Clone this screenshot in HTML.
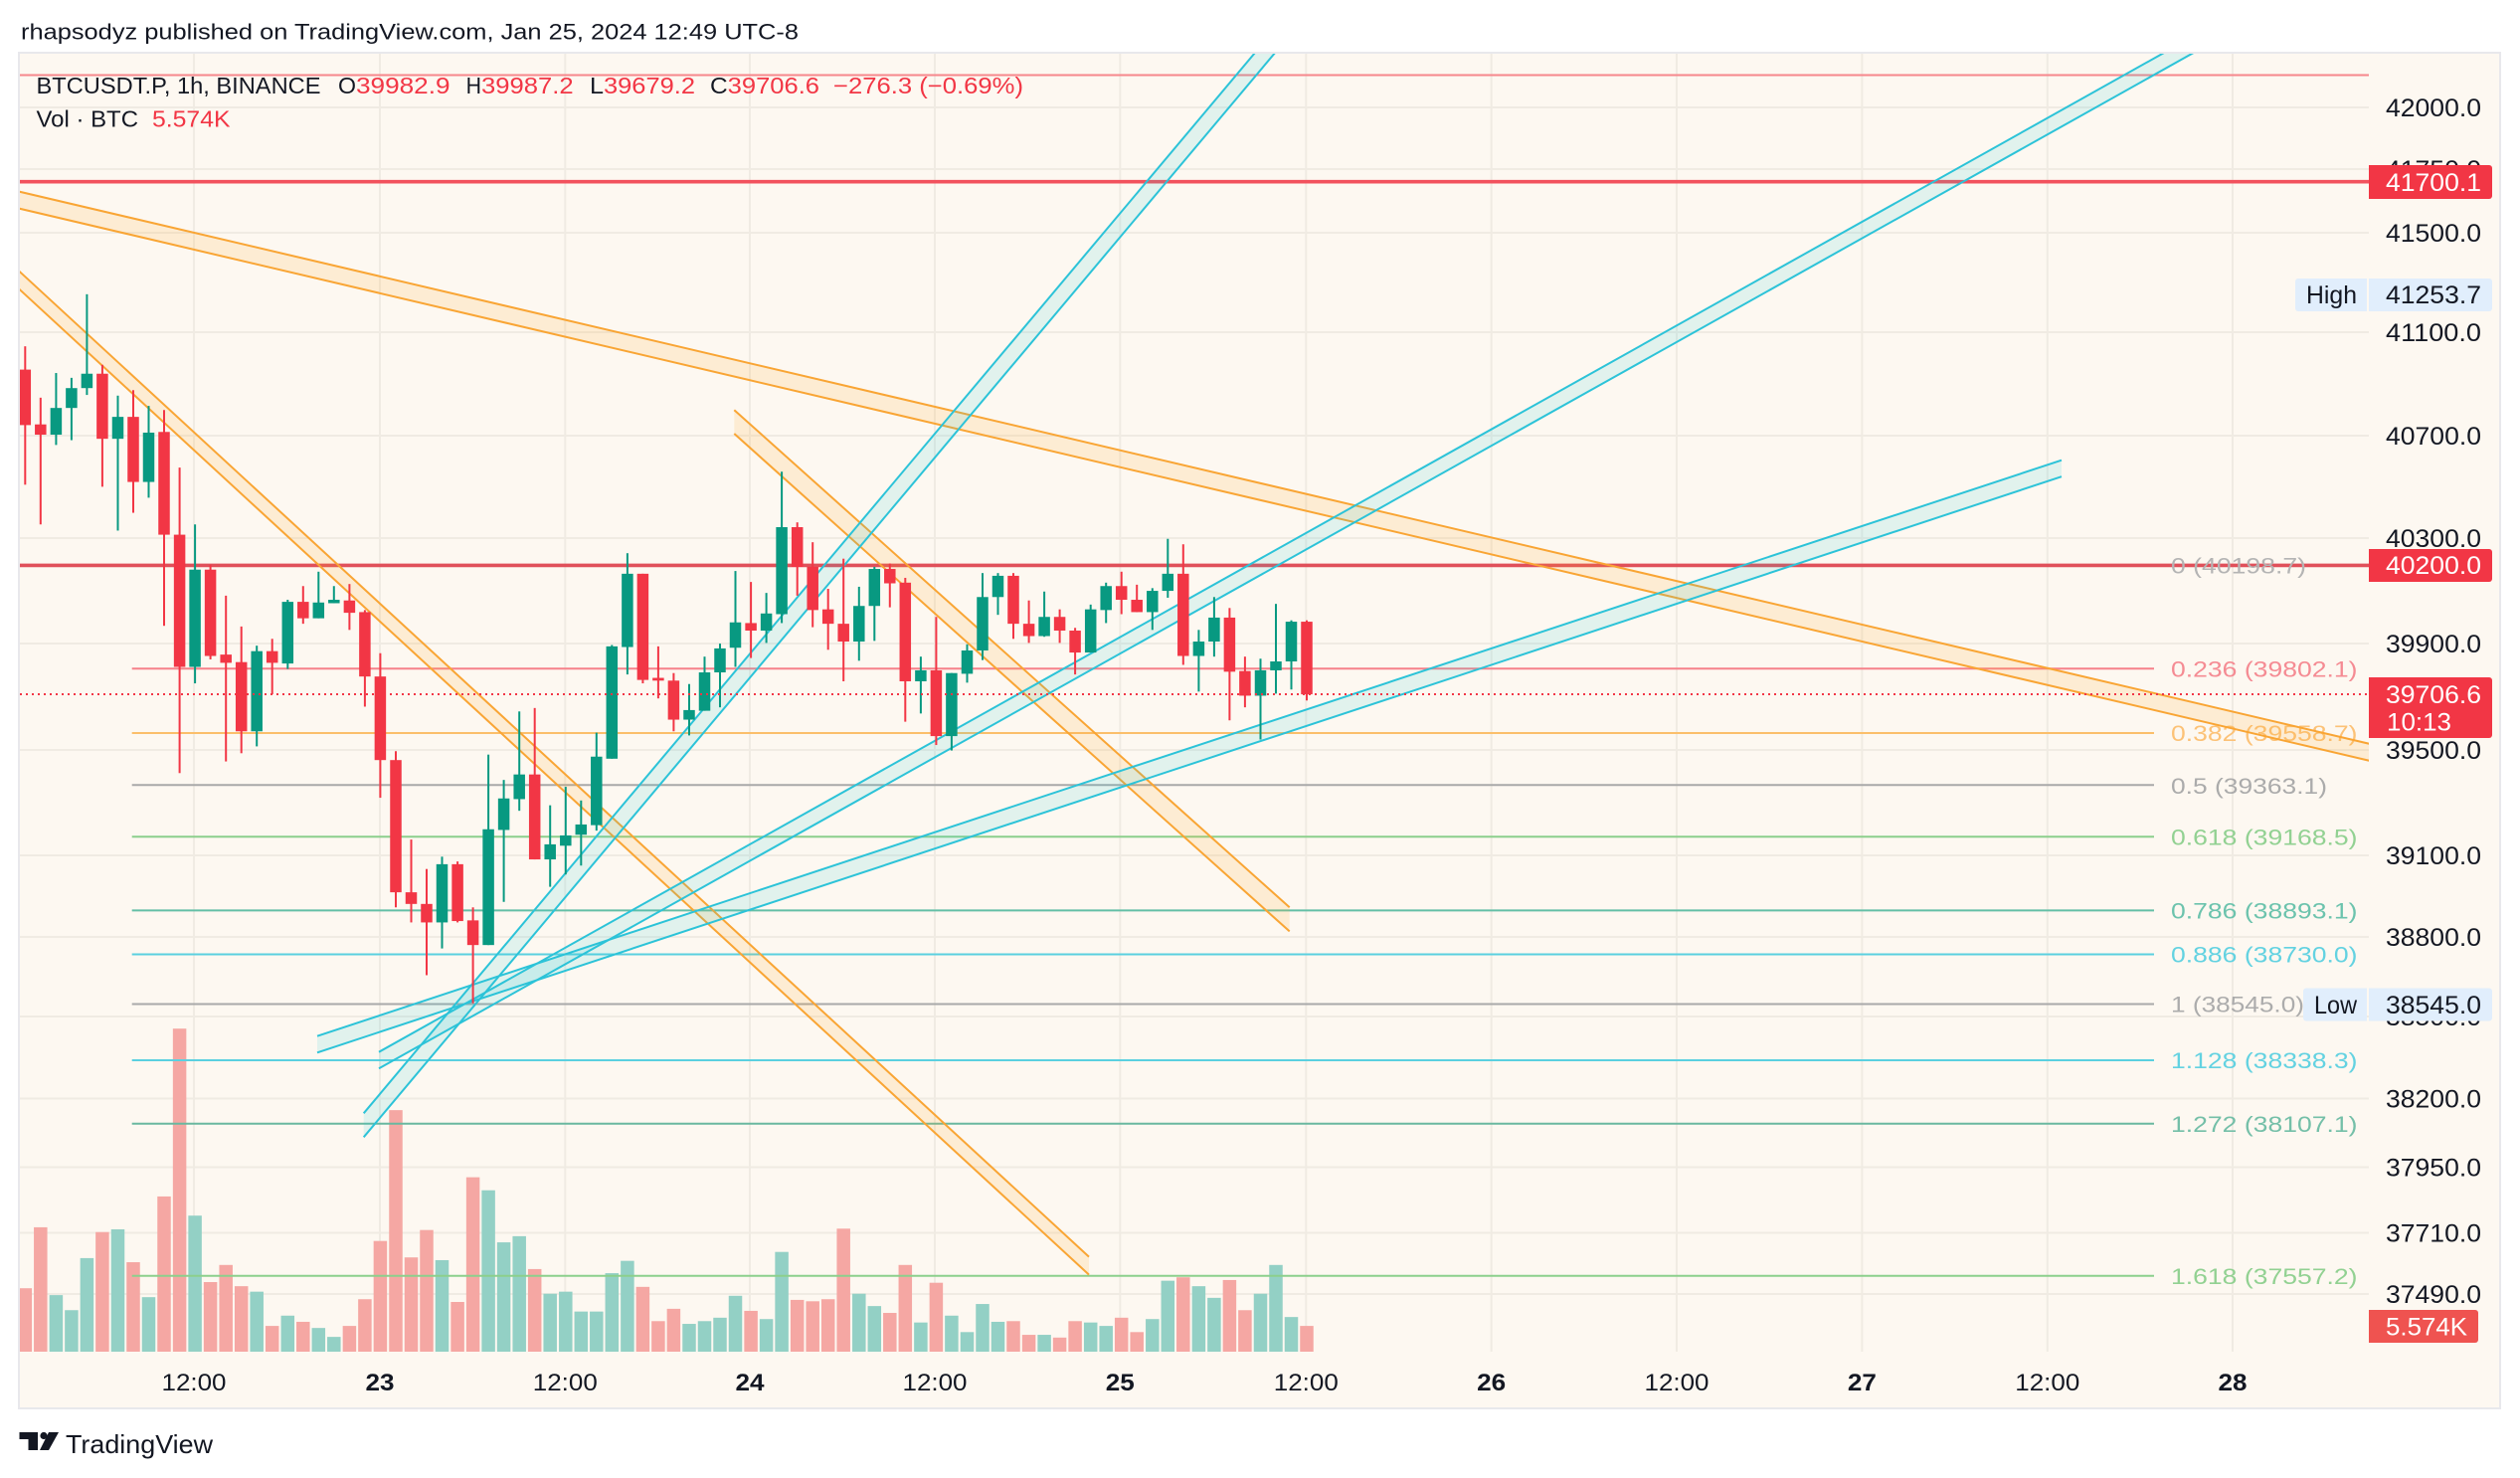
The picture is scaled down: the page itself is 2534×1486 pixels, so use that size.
<!DOCTYPE html>
<html><head><meta charset="utf-8">
<style>
html,body{margin:0;padding:0;background:#fff;}
svg{display:block;}
text{font-family:"Liberation Sans",Arial,sans-serif;}
.r{fill:#f23645}.g{fill:#089981}
.vr{fill:#f5a7a3}.vg{fill:#93d0c5}
.pl{font-size:25px;fill:#131722}
.fl{font-size:22.5px}
.tl{font-size:24px;fill:#131722}
</style></head><body>
<svg width="2534" height="1486" viewBox="0 0 2534 1486" xmlns="http://www.w3.org/2000/svg">
<defs><clipPath id="pc"><rect x="20" y="54" width="2362" height="1305"/></clipPath></defs>
<rect width="2534" height="1486" fill="#fff"/>
<rect x="19" y="53" width="2495" height="1363" fill="#fdf8f1" stroke="#e8e8ec" stroke-width="2"/>

<!-- title -->
<text x="21" y="39.5" font-size="22" fill="#131722" textLength="782" lengthAdjust="spacingAndGlyphs">rhapsodyz published on TradingView.com, Jan 25, 2024 12:49 UTC-8</text>

<!-- grid -->
<g stroke="#f0ebe3" stroke-width="2">
<line x1="20" x2="2382" y1="108" y2="108"/><line x1="20" x2="2382" y1="170" y2="170"/>
<line x1="20" x2="2382" y1="234" y2="234"/><line x1="20" x2="2382" y1="334" y2="334"/>
<line x1="20" x2="2382" y1="438" y2="438"/><line x1="20" x2="2382" y1="541" y2="541"/>
<line x1="20" x2="2382" y1="647" y2="647"/><line x1="20" x2="2382" y1="754" y2="754"/>
<line x1="20" x2="2382" y1="860" y2="860"/><line x1="20" x2="2382" y1="942" y2="942"/>
<line x1="20" x2="2382" y1="1022" y2="1022"/><line x1="20" x2="2382" y1="1104.5" y2="1104.5"/>
<line x1="20" x2="2382" y1="1173.5" y2="1173.5"/><line x1="20" x2="2382" y1="1239.5" y2="1239.5"/>
<line x1="20" x2="2382" y1="1301" y2="1301"/>
<line x1="195" x2="195" y1="54" y2="1359"/><line x1="382" x2="382" y1="54" y2="1359"/>
<line x1="568.3" x2="568.3" y1="54" y2="1359"/><line x1="754" x2="754" y1="54" y2="1359"/>
<line x1="940" x2="940" y1="54" y2="1359"/><line x1="1126.3" x2="1126.3" y1="54" y2="1359"/>
<line x1="1313.3" x2="1313.3" y1="54" y2="1359"/><line x1="1499.7" x2="1499.7" y1="54" y2="1359"/>
<line x1="1686" x2="1686" y1="54" y2="1359"/><line x1="1872.4" x2="1872.4" y1="54" y2="1359"/>
<line x1="2058.8" x2="2058.8" y1="54" y2="1359"/><line x1="2245" x2="2245" y1="54" y2="1359"/>
</g>

<!-- volume -->
<g clip-path="url(#pc)"><g transform="translate(0,280) scale(1,0.68875)">
<g transform="translate(25.3)"><rect class="vr" x="-6.75" width="13.5" y="1474" height="94"/></g>
<g transform="translate(40.8)"><rect class="vr" x="-6.75" width="13.5" y="1385" height="183"/></g>
<g transform="translate(56.4)"><rect class="vg" x="-6.75" width="13.5" y="1484" height="84"/></g>
<g transform="translate(71.9)"><rect class="vg" x="-6.75" width="13.5" y="1506" height="62"/></g>
<g transform="translate(87.4)"><rect class="vg" x="-6.75" width="13.5" y="1430" height="138"/></g>
<g transform="translate(102.9)"><rect class="vr" x="-6.75" width="13.5" y="1392" height="176"/></g>
<g transform="translate(118.5)"><rect class="vg" x="-6.75" width="13.5" y="1388" height="180"/></g>
<g transform="translate(134.0)"><rect class="vr" x="-6.75" width="13.5" y="1436" height="132"/></g>
<g transform="translate(149.5)"><rect class="vg" x="-6.75" width="13.5" y="1487" height="81"/></g>
<g transform="translate(165.0)"><rect class="vr" x="-6.75" width="13.5" y="1340" height="228"/></g>
<g transform="translate(180.6)"><rect class="vr" x="-6.75" width="13.5" y="1095" height="473"/></g>
<g transform="translate(196.1)"><rect class="vg" x="-6.75" width="13.5" y="1368" height="200"/></g>
<g transform="translate(211.6)"><rect class="vr" x="-6.75" width="13.5" y="1465" height="103"/></g>
<g transform="translate(227.2)"><rect class="vr" x="-6.75" width="13.5" y="1440" height="128"/></g>
<g transform="translate(242.7)"><rect class="vr" x="-6.75" width="13.5" y="1471" height="97"/></g>
<g transform="translate(258.2)"><rect class="vg" x="-6.75" width="13.5" y="1479" height="89"/></g>
<g transform="translate(273.7)"><rect class="vr" x="-6.75" width="13.5" y="1529" height="39"/></g>
<g transform="translate(289.3)"><rect class="vg" x="-6.75" width="13.5" y="1514" height="54"/></g>
<g transform="translate(304.8)"><rect class="vr" x="-6.75" width="13.5" y="1523" height="45"/></g>
<g transform="translate(320.3)"><rect class="vg" x="-6.75" width="13.5" y="1532" height="36"/></g>
<g transform="translate(335.8)"><rect class="vg" x="-6.75" width="13.5" y="1545" height="23"/></g>
<g transform="translate(351.4)"><rect class="vr" x="-6.75" width="13.5" y="1529" height="39"/></g>
<g transform="translate(366.9)"><rect class="vr" x="-6.75" width="13.5" y="1490" height="78"/></g>
<g transform="translate(382.4)"><rect class="vr" x="-6.75" width="13.5" y="1405" height="163"/></g>
<g transform="translate(398.0)"><rect class="vr" x="-6.75" width="13.5" y="1214" height="354"/></g>
<g transform="translate(413.5)"><rect class="vr" x="-6.75" width="13.5" y="1429" height="139"/></g>
<g transform="translate(429.0)"><rect class="vr" x="-6.75" width="13.5" y="1389" height="179"/></g>
<g transform="translate(444.5)"><rect class="vg" x="-6.75" width="13.5" y="1433" height="135"/></g>
<g transform="translate(460.1)"><rect class="vr" x="-6.75" width="13.5" y="1494" height="74"/></g>
<g transform="translate(475.6)"><rect class="vr" x="-6.75" width="13.5" y="1312" height="256"/></g>
<g transform="translate(491.1)"><rect class="vg" x="-6.75" width="13.5" y="1331" height="237"/></g>
<g transform="translate(506.6)"><rect class="vg" x="-6.75" width="13.5" y="1407" height="161"/></g>
<g transform="translate(522.2)"><rect class="vg" x="-6.75" width="13.5" y="1398" height="170"/></g>
<g transform="translate(537.7)"><rect class="vr" x="-6.75" width="13.5" y="1446" height="122"/></g>
<g transform="translate(553.2)"><rect class="vg" x="-6.75" width="13.5" y="1482" height="86"/></g>
<g transform="translate(568.8)"><rect class="vg" x="-6.75" width="13.5" y="1479" height="89"/></g>
<g transform="translate(584.3)"><rect class="vg" x="-6.75" width="13.5" y="1508" height="60"/></g>
<g transform="translate(599.8)"><rect class="vg" x="-6.75" width="13.5" y="1508" height="60"/></g>
<g transform="translate(615.3)"><rect class="vg" x="-6.75" width="13.5" y="1452" height="116"/></g>
<g transform="translate(630.9)"><rect class="vg" x="-6.75" width="13.5" y="1434" height="134"/></g>
<g transform="translate(646.4)"><rect class="vr" x="-6.75" width="13.5" y="1472" height="96"/></g>
<g transform="translate(661.9)"><rect class="vr" x="-6.75" width="13.5" y="1522" height="46"/></g>
<g transform="translate(677.4)"><rect class="vr" x="-6.75" width="13.5" y="1504" height="64"/></g>
<g transform="translate(693.0)"><rect class="vg" x="-6.75" width="13.5" y="1526" height="42"/></g>
<g transform="translate(708.5)"><rect class="vg" x="-6.75" width="13.5" y="1522" height="46"/></g>
<g transform="translate(724.0)"><rect class="vg" x="-6.75" width="13.5" y="1517" height="51"/></g>
<g transform="translate(739.5)"><rect class="vg" x="-6.75" width="13.5" y="1485" height="83"/></g>
<g transform="translate(755.1)"><rect class="vr" x="-6.75" width="13.5" y="1507" height="61"/></g>
<g transform="translate(770.6)"><rect class="vg" x="-6.75" width="13.5" y="1519" height="49"/></g>
<g transform="translate(786.1)"><rect class="vg" x="-6.75" width="13.5" y="1421" height="147"/></g>
<g transform="translate(801.7)"><rect class="vr" x="-6.75" width="13.5" y="1491" height="77"/></g>
<g transform="translate(817.2)"><rect class="vr" x="-6.75" width="13.5" y="1493" height="75"/></g>
<g transform="translate(832.7)"><rect class="vr" x="-6.75" width="13.5" y="1490" height="78"/></g>
<g transform="translate(848.2)"><rect class="vr" x="-6.75" width="13.5" y="1387" height="181"/></g>
<g transform="translate(863.8)"><rect class="vg" x="-6.75" width="13.5" y="1482" height="86"/></g>
<g transform="translate(879.3)"><rect class="vg" x="-6.75" width="13.5" y="1500" height="68"/></g>
<g transform="translate(894.8)"><rect class="vr" x="-6.75" width="13.5" y="1510" height="58"/></g>
<g transform="translate(910.3)"><rect class="vr" x="-6.75" width="13.5" y="1440" height="128"/></g>
<g transform="translate(925.9)"><rect class="vg" x="-6.75" width="13.5" y="1524" height="44"/></g>
<g transform="translate(941.4)"><rect class="vr" x="-6.75" width="13.5" y="1466" height="102"/></g>
<g transform="translate(956.9)"><rect class="vg" x="-6.75" width="13.5" y="1514" height="54"/></g>
<g transform="translate(972.5)"><rect class="vg" x="-6.75" width="13.5" y="1538" height="30"/></g>
<g transform="translate(988.0)"><rect class="vg" x="-6.75" width="13.5" y="1497" height="71"/></g>
<g transform="translate(1003.5)"><rect class="vg" x="-6.75" width="13.5" y="1523" height="45"/></g>
<g transform="translate(1019.0)"><rect class="vr" x="-6.75" width="13.5" y="1522" height="46"/></g>
<g transform="translate(1034.6)"><rect class="vr" x="-6.75" width="13.5" y="1542" height="26"/></g>
<g transform="translate(1050.1)"><rect class="vg" x="-6.75" width="13.5" y="1542" height="26"/></g>
<g transform="translate(1065.6)"><rect class="vr" x="-6.75" width="13.5" y="1546" height="22"/></g>
<g transform="translate(1081.1)"><rect class="vr" x="-6.75" width="13.5" y="1522" height="46"/></g>
<g transform="translate(1096.7)"><rect class="vg" x="-6.75" width="13.5" y="1524" height="44"/></g>
<g transform="translate(1112.2)"><rect class="vg" x="-6.75" width="13.5" y="1529" height="39"/></g>
<g transform="translate(1127.7)"><rect class="vr" x="-6.75" width="13.5" y="1517" height="51"/></g>
<g transform="translate(1143.2)"><rect class="vr" x="-6.75" width="13.5" y="1538" height="30"/></g>
<g transform="translate(1158.8)"><rect class="vg" x="-6.75" width="13.5" y="1519" height="49"/></g>
<g transform="translate(1174.3)"><rect class="vg" x="-6.75" width="13.5" y="1463" height="105"/></g>
<g transform="translate(1189.8)"><rect class="vr" x="-6.75" width="13.5" y="1458" height="110"/></g>
<g transform="translate(1205.4)"><rect class="vg" x="-6.75" width="13.5" y="1471" height="97"/></g>
<g transform="translate(1220.9)"><rect class="vg" x="-6.75" width="13.5" y="1488" height="80"/></g>
<g transform="translate(1236.4)"><rect class="vr" x="-6.75" width="13.5" y="1462" height="106"/></g>
<g transform="translate(1251.9)"><rect class="vr" x="-6.75" width="13.5" y="1506" height="62"/></g>
<g transform="translate(1267.5)"><rect class="vg" x="-6.75" width="13.5" y="1482" height="86"/></g>
<g transform="translate(1283.0)"><rect class="vg" x="-6.75" width="13.5" y="1440" height="128"/></g>
<g transform="translate(1298.5)"><rect class="vg" x="-6.75" width="13.5" y="1516" height="52"/></g>
<g transform="translate(1314.0)"><rect class="vr" x="-6.75" width="13.5" y="1529" height="39"/></g>
</g></g>

<!-- horizontal lines & fib -->
<g clip-path="url(#pc)">
<line x1="20" x2="2382" y1="75.5" y2="75.5" stroke="#f6878c" stroke-width="2"/>
<line x1="20" x2="2382" y1="182.7" y2="182.7" stroke="#f2525d" stroke-width="3.6"/>
<g stroke-width="2">
<line x1="132.7" x2="2166" y1="568.4" y2="568.4" stroke="#a9a9a9"/>
<line x1="132.7" x2="2166" y1="672.3" y2="672.3" stroke="#f6818a"/>
<line x1="132.7" x2="2166" y1="737" y2="737" stroke="#fbbf6b"/>
<line x1="132.7" x2="2166" y1="789.3" y2="789.3" stroke="#a9a9a9"/>
<line x1="132.7" x2="2166" y1="841.2" y2="841.2" stroke="#8ccf8c"/>
<line x1="132.7" x2="2166" y1="915.4" y2="915.4" stroke="#63bfa6"/>
<line x1="132.7" x2="2166" y1="959.5" y2="959.5" stroke="#5bd0e0"/>
<line x1="132.7" x2="2166" y1="1009.5" y2="1009.5" stroke="#a9a9a9"/>
<line x1="132.7" x2="2166" y1="1066" y2="1066" stroke="#5bd0e0"/>
<line x1="132.7" x2="2166" y1="1129.7" y2="1129.7" stroke="#6ab8a0"/>
<line x1="132.7" x2="2166" y1="1282.8" y2="1282.8" stroke="#8ccf8c"/>
</g>
<line x1="20" x2="2382" y1="568.4" y2="568.4" stroke="#e0505a" stroke-width="3.6"/>
</g>

<!-- fib labels -->
<g class="fl">
<text x="2183" y="576.4" fill="#b4b4b4" textLength="136" lengthAdjust="spacingAndGlyphs">0 (40198.7)</text>
<text x="2183" y="680.3" fill="#f58b93" textLength="187.5" lengthAdjust="spacingAndGlyphs">0.236 (39802.1)</text>
<text x="2183" y="745" fill="#fcc277" textLength="187.5" lengthAdjust="spacingAndGlyphs">0.382 (39558.7)</text>
<text x="2183" y="797.8" fill="#ababab" textLength="157" lengthAdjust="spacingAndGlyphs">0.5 (39363.1)</text>
<text x="2183" y="849.4" fill="#92d192" textLength="187.5" lengthAdjust="spacingAndGlyphs">0.618 (39168.5)</text>
<text x="2183" y="923.6" fill="#6cc3ad" textLength="187.5" lengthAdjust="spacingAndGlyphs">0.786 (38893.1)</text>
<text x="2183" y="967.7" fill="#63d2e1" textLength="187.5" lengthAdjust="spacingAndGlyphs">0.886 (38730.0)</text>
<text x="2183" y="1017.7" fill="#acacac" textLength="134" lengthAdjust="spacingAndGlyphs">1 (38545.0)</text>
<text x="2183" y="1074.2" fill="#63d2e1" textLength="187.5" lengthAdjust="spacingAndGlyphs">1.128 (38338.3)</text>
<text x="2183" y="1137.9" fill="#74bfa8" textLength="187.5" lengthAdjust="spacingAndGlyphs">1.272 (38107.1)</text>
<text x="2183" y="1291" fill="#92d192" textLength="187.5" lengthAdjust="spacingAndGlyphs">1.618 (37557.2)</text>
</g>

<!-- channels -->
<g clip-path="url(#pc)" stroke-width="2">
<!-- orange A -->
<polygon points="0,188.1 2400,751.9 2400,768.9 0,205.1" fill="rgba(255,167,38,0.15)" stroke="none"/>
<line x1="0" y1="188.1" x2="2400" y2="751.9" stroke="#f9a534"/>
<line x1="0" y1="205.1" x2="2400" y2="768.9" stroke="#f9a534"/>
<!-- orange B -->
<polygon points="0,254.9 1095,1263.6 1095,1281.6 0,272.9" fill="rgba(255,167,38,0.15)" stroke="#f9a534" stroke-width="0"/>
<line x1="0" y1="254.9" x2="1095" y2="1263.6" stroke="#f9a534"/>
<line x1="0" y1="272.9" x2="1095" y2="1281.6" stroke="#f9a534"/>
<!-- orange C -->
<polygon points="738.3,412.2 1296.7,912.3 1296.7,936.4 738.3,436" fill="rgba(255,167,38,0.15)"/>
<line x1="738.3" y1="412.2" x2="1296.7" y2="912.3" stroke="#f9a534"/>
<line x1="738.3" y1="436" x2="1296.7" y2="936.4" stroke="#f9a534"/>
<!-- cyan D -->
<polygon points="365.7,1119.3 1330,-27.9 1330,-3.9 365.7,1143.3" fill="rgba(38,198,218,0.13)"/>
<line x1="365.7" y1="1119.3" x2="1330" y2="-27.9" stroke="#2cc3d8"/>
<line x1="365.7" y1="1143.3" x2="1330" y2="-3.9" stroke="#2cc3d8"/>
<!-- cyan E -->
<polygon points="319,1041.7 2073,462.7 2073,479.2 319,1058.3" fill="rgba(38,198,218,0.13)"/>
<line x1="319" y1="1041.7" x2="2073" y2="462.7" stroke="#2cc3d8"/>
<line x1="319" y1="1058.3" x2="2073" y2="479.2" stroke="#2cc3d8"/>
<!-- cyan F -->
<polygon points="381,1057.7 2400,-72.3 2400,-55.7 381,1074.3" fill="rgba(38,198,218,0.13)"/>
<line x1="381" y1="1057.7" x2="2400" y2="-72.3" stroke="#2cc3d8"/>
<line x1="381" y1="1074.3" x2="2400" y2="-55.7" stroke="#2cc3d8"/>
</g>

<!-- candles -->
<g clip-path="url(#pc)"><g transform="translate(0,280) scale(1,0.68875)">
<g transform="translate(25.3)" class="r"><rect x="-1" width="2" y="99" height="202"/><rect x="-5.75" width="11.5" y="133" height="81"/></g>
<g transform="translate(40.8)" class="r"><rect x="-1" width="2" y="174" height="185"/><rect x="-5.75" width="11.5" y="213" height="15"/></g>
<g transform="translate(56.4)" class="g"><rect x="-1" width="2" y="138" height="105"/><rect x="-5.75" width="11.5" y="189" height="39"/></g>
<g transform="translate(71.9)" class="g"><rect x="-1" width="2" y="145" height="91"/><rect x="-5.75" width="11.5" y="160" height="29"/></g>
<g transform="translate(87.4)" class="g"><rect x="-1" width="2" y="23" height="147"/><rect x="-5.75" width="11.5" y="139" height="21"/></g>
<g transform="translate(102.9)" class="r"><rect x="-1" width="2" y="126" height="178"/><rect x="-5.75" width="11.5" y="139" height="95"/></g>
<g transform="translate(118.5)" class="g"><rect x="-1" width="2" y="171" height="197"/><rect x="-5.75" width="11.5" y="202" height="32"/></g>
<g transform="translate(134.0)" class="r"><rect x="-1" width="2" y="163" height="179"/><rect x="-5.75" width="11.5" y="202" height="95"/></g>
<g transform="translate(149.5)" class="g"><rect x="-1" width="2" y="186" height="134"/><rect x="-5.75" width="11.5" y="225" height="72"/></g>
<g transform="translate(165.0)" class="r"><rect x="-1" width="2" y="192" height="315"/><rect x="-5.75" width="11.5" y="224" height="150"/></g>
<g transform="translate(180.6)" class="r"><rect x="-1" width="2" y="276" height="446"/><rect x="-5.75" width="11.5" y="374" height="193"/></g>
<g transform="translate(196.1)" class="g"><rect x="-1" width="2" y="359" height="232"/><rect x="-5.75" width="11.5" y="425" height="142"/></g>
<g transform="translate(211.6)" class="r"><rect x="-1" width="2" y="418" height="138"/><rect x="-5.75" width="11.5" y="425" height="126"/></g>
<g transform="translate(227.2)" class="r"><rect x="-1" width="2" y="463" height="242"/><rect x="-5.75" width="11.5" y="549" height="12"/></g>
<g transform="translate(242.7)" class="r"><rect x="-1" width="2" y="508" height="185"/><rect x="-5.75" width="11.5" y="560" height="101"/></g>
<g transform="translate(258.2)" class="g"><rect x="-1" width="2" y="536" height="147"/><rect x="-5.75" width="11.5" y="544" height="117"/></g>
<g transform="translate(273.7)" class="r"><rect x="-1" width="2" y="526" height="81"/><rect x="-5.75" width="11.5" y="544" height="17"/></g>
<g transform="translate(289.3)" class="g"><rect x="-1" width="2" y="469" height="101"/><rect x="-5.75" width="11.5" y="472" height="90"/></g>
<g transform="translate(304.8)" class="r"><rect x="-1" width="2" y="449" height="55"/><rect x="-5.75" width="11.5" y="472" height="24"/></g>
<g transform="translate(320.3)" class="g"><rect x="-1" width="2" y="428" height="68"/><rect x="-5.75" width="11.5" y="473" height="23"/></g>
<g transform="translate(335.8)" class="g"><rect x="-1" width="2" y="449" height="25"/><rect x="-5.75" width="11.5" y="469" height="5"/></g>
<g transform="translate(351.4)" class="r"><rect x="-1" width="2" y="446" height="67"/><rect x="-5.75" width="11.5" y="470" height="18"/></g>
<g transform="translate(366.9)" class="r"><rect x="-1" width="2" y="484" height="141"/><rect x="-5.75" width="11.5" y="487" height="94"/></g>
<g transform="translate(382.4)" class="r"><rect x="-1" width="2" y="547" height="211"/><rect x="-5.75" width="11.5" y="581" height="122"/></g>
<g transform="translate(398.0)" class="r"><rect x="-1" width="2" y="690" height="228"/><rect x="-5.75" width="11.5" y="703" height="193"/></g>
<g transform="translate(413.5)" class="r"><rect x="-1" width="2" y="819" height="121"/><rect x="-5.75" width="11.5" y="896" height="17"/></g>
<g transform="translate(429.0)" class="r"><rect x="-1" width="2" y="862" height="155"/><rect x="-5.75" width="11.5" y="913" height="27"/></g>
<g transform="translate(444.5)" class="g"><rect x="-1" width="2" y="844" height="134"/><rect x="-5.75" width="11.5" y="855" height="85"/></g>
<g transform="translate(460.1)" class="r"><rect x="-1" width="2" y="851" height="89"/><rect x="-5.75" width="11.5" y="855" height="83"/></g>
<g transform="translate(475.6)" class="r"><rect x="-1" width="2" y="918" height="140"/><rect x="-5.75" width="11.5" y="937" height="36"/></g>
<g transform="translate(491.1)" class="g"><rect x="-1" width="2" y="695" height="278"/><rect x="-5.75" width="11.5" y="804" height="169"/></g>
<g transform="translate(506.6)" class="g"><rect x="-1" width="2" y="732" height="178"/><rect x="-5.75" width="11.5" y="759" height="46"/></g>
<g transform="translate(522.2)" class="g"><rect x="-1" width="2" y="632" height="145"/><rect x="-5.75" width="11.5" y="724" height="36"/></g>
<g transform="translate(537.7)" class="r"><rect x="-1" width="2" y="627" height="221"/><rect x="-5.75" width="11.5" y="724" height="124"/></g>
<g transform="translate(553.2)" class="g"><rect x="-1" width="2" y="769" height="119"/><rect x="-5.75" width="11.5" y="826" height="22"/></g>
<g transform="translate(568.8)" class="g"><rect x="-1" width="2" y="742" height="128"/><rect x="-5.75" width="11.5" y="813" height="15"/></g>
<g transform="translate(584.3)" class="g"><rect x="-1" width="2" y="762" height="95"/><rect x="-5.75" width="11.5" y="797" height="15"/></g>
<g transform="translate(599.8)" class="g"><rect x="-1" width="2" y="663" height="143"/><rect x="-5.75" width="11.5" y="698" height="100"/></g>
<g transform="translate(615.3)" class="g"><rect x="-1" width="2" y="535" height="166"/><rect x="-5.75" width="11.5" y="537" height="164"/></g>
<g transform="translate(630.9)" class="g"><rect x="-1" width="2" y="401" height="177"/><rect x="-5.75" width="11.5" y="431" height="107"/></g>
<g transform="translate(646.4)" class="r"><rect x="-1" width="2" y="431" height="160"/><rect x="-5.75" width="11.5" y="431" height="155"/></g>
<g transform="translate(661.9)" class="r"><rect x="-1" width="2" y="537" height="76"/><rect x="-5.75" width="11.5" y="583" height="4"/></g>
<g transform="translate(677.4)" class="r"><rect x="-1" width="2" y="576" height="85"/><rect x="-5.75" width="11.5" y="587" height="57"/></g>
<g transform="translate(693.0)" class="g"><rect x="-1" width="2" y="592" height="75"/><rect x="-5.75" width="11.5" y="630" height="14"/></g>
<g transform="translate(708.5)" class="g"><rect x="-1" width="2" y="552" height="79"/><rect x="-5.75" width="11.5" y="575" height="56"/></g>
<g transform="translate(724.0)" class="g"><rect x="-1" width="2" y="533" height="93"/><rect x="-5.75" width="11.5" y="540" height="35"/></g>
<g transform="translate(739.5)" class="g"><rect x="-1" width="2" y="427" height="140"/><rect x="-5.75" width="11.5" y="502" height="37"/></g>
<g transform="translate(755.1)" class="r"><rect x="-1" width="2" y="443" height="111"/><rect x="-5.75" width="11.5" y="503" height="11"/></g>
<g transform="translate(770.6)" class="g"><rect x="-1" width="2" y="459" height="73"/><rect x="-5.75" width="11.5" y="489" height="25"/></g>
<g transform="translate(786.1)" class="g"><rect x="-1" width="2" y="282" height="221"/><rect x="-5.75" width="11.5" y="363" height="127"/></g>
<g transform="translate(801.7)" class="r"><rect x="-1" width="2" y="356" height="107"/><rect x="-5.75" width="11.5" y="363" height="58"/></g>
<g transform="translate(817.2)" class="r"><rect x="-1" width="2" y="385" height="124"/><rect x="-5.75" width="11.5" y="421" height="63"/></g>
<g transform="translate(832.7)" class="r"><rect x="-1" width="2" y="453" height="89"/><rect x="-5.75" width="11.5" y="483" height="21"/></g>
<g transform="translate(848.2)" class="r"><rect x="-1" width="2" y="409" height="179"/><rect x="-5.75" width="11.5" y="504" height="26"/></g>
<g transform="translate(863.8)" class="g"><rect x="-1" width="2" y="450" height="108"/><rect x="-5.75" width="11.5" y="478" height="52"/></g>
<g transform="translate(879.3)" class="g"><rect x="-1" width="2" y="421" height="108"/><rect x="-5.75" width="11.5" y="424" height="54"/></g>
<g transform="translate(894.8)" class="r"><rect x="-1" width="2" y="416" height="64"/><rect x="-5.75" width="11.5" y="424" height="21"/></g>
<g transform="translate(910.3)" class="r"><rect x="-1" width="2" y="437" height="210"/><rect x="-5.75" width="11.5" y="444" height="144"/></g>
<g transform="translate(925.9)" class="g"><rect x="-1" width="2" y="552" height="83"/><rect x="-5.75" width="11.5" y="572" height="16"/></g>
<g transform="translate(941.4)" class="r"><rect x="-1" width="2" y="494" height="187"/><rect x="-5.75" width="11.5" y="572" height="96"/></g>
<g transform="translate(956.9)" class="g"><rect x="-1" width="2" y="576" height="113"/><rect x="-5.75" width="11.5" y="576" height="92"/></g>
<g transform="translate(972.5)" class="g"><rect x="-1" width="2" y="534" height="56"/><rect x="-5.75" width="11.5" y="543" height="34"/></g>
<g transform="translate(988.0)" class="g"><rect x="-1" width="2" y="430" height="127"/><rect x="-5.75" width="11.5" y="465" height="78"/></g>
<g transform="translate(1003.5)" class="g"><rect x="-1" width="2" y="430" height="61"/><rect x="-5.75" width="11.5" y="434" height="31"/></g>
<g transform="translate(1019.0)" class="r"><rect x="-1" width="2" y="430" height="96"/><rect x="-5.75" width="11.5" y="434" height="70"/></g>
<g transform="translate(1034.6)" class="r"><rect x="-1" width="2" y="470" height="62"/><rect x="-5.75" width="11.5" y="504" height="18"/></g>
<g transform="translate(1050.1)" class="g"><rect x="-1" width="2" y="457" height="66"/><rect x="-5.75" width="11.5" y="494" height="28"/></g>
<g transform="translate(1065.6)" class="r"><rect x="-1" width="2" y="483" height="49"/><rect x="-5.75" width="11.5" y="494" height="20"/></g>
<g transform="translate(1081.1)" class="r"><rect x="-1" width="2" y="510" height="68"/><rect x="-5.75" width="11.5" y="514" height="32"/></g>
<g transform="translate(1096.7)" class="g"><rect x="-1" width="2" y="476" height="70"/><rect x="-5.75" width="11.5" y="483" height="63"/></g>
<g transform="translate(1112.2)" class="g"><rect x="-1" width="2" y="444" height="59"/><rect x="-5.75" width="11.5" y="449" height="35"/></g>
<g transform="translate(1127.7)" class="r"><rect x="-1" width="2" y="428" height="62"/><rect x="-5.75" width="11.5" y="449" height="20"/></g>
<g transform="translate(1143.2)" class="r"><rect x="-1" width="2" y="447" height="40"/><rect x="-5.75" width="11.5" y="469" height="18"/></g>
<g transform="translate(1158.8)" class="g"><rect x="-1" width="2" y="452" height="61"/><rect x="-5.75" width="11.5" y="456" height="31"/></g>
<g transform="translate(1174.3)" class="g"><rect x="-1" width="2" y="380" height="86"/><rect x="-5.75" width="11.5" y="431" height="25"/></g>
<g transform="translate(1189.8)" class="r"><rect x="-1" width="2" y="388" height="176"/><rect x="-5.75" width="11.5" y="431" height="120"/></g>
<g transform="translate(1205.4)" class="g"><rect x="-1" width="2" y="513" height="90"/><rect x="-5.75" width="11.5" y="530" height="21"/></g>
<g transform="translate(1220.9)" class="g"><rect x="-1" width="2" y="465" height="87"/><rect x="-5.75" width="11.5" y="495" height="35"/></g>
<g transform="translate(1236.4)" class="r"><rect x="-1" width="2" y="481" height="164"/><rect x="-5.75" width="11.5" y="495" height="79"/></g>
<g transform="translate(1251.9)" class="r"><rect x="-1" width="2" y="552" height="74"/><rect x="-5.75" width="11.5" y="573" height="36"/></g>
<g transform="translate(1267.5)" class="g"><rect x="-1" width="2" y="555" height="118"/><rect x="-5.75" width="11.5" y="572" height="37"/></g>
<g transform="translate(1283.0)" class="g"><rect x="-1" width="2" y="475" height="131"/><rect x="-5.75" width="11.5" y="559" height="13"/></g>
<g transform="translate(1298.5)" class="g"><rect x="-1" width="2" y="499" height="101"/><rect x="-5.75" width="11.5" y="501" height="58"/></g>
<g transform="translate(1314.0)" class="r"><rect x="-1" width="2" y="499" height="117"/><rect x="-5.75" width="11.5" y="501" height="106"/></g>
</g></g>

<!-- current price dotted line -->
<line x1="20" x2="2382" y1="698" y2="698" stroke="#f23645" stroke-width="2" stroke-dasharray="2 4"/>

<!-- legend -->
<g font-size="23">
<text x="36.5" y="94" fill="#131722" textLength="286" lengthAdjust="spacingAndGlyphs">BTCUSDT.P, 1h, BINANCE</text>
<text x="340" y="94" fill="#131722" textLength="18" lengthAdjust="spacingAndGlyphs">O</text>
<text x="358" y="94" fill="#f23645" textLength="94.5" lengthAdjust="spacingAndGlyphs">39982.9</text>
<text x="468.6" y="94" fill="#131722" textLength="15.4" lengthAdjust="spacingAndGlyphs">H</text>
<text x="484" y="94" fill="#f23645" textLength="92.6" lengthAdjust="spacingAndGlyphs">39987.2</text>
<text x="593" y="94" fill="#131722" textLength="14" lengthAdjust="spacingAndGlyphs">L</text>
<text x="607" y="94" fill="#f23645" textLength="92" lengthAdjust="spacingAndGlyphs">39679.2</text>
<text x="714" y="94" fill="#131722" textLength="17.7" lengthAdjust="spacingAndGlyphs">C</text>
<text x="731.7" y="94" fill="#f23645" textLength="92.3" lengthAdjust="spacingAndGlyphs">39706.6</text>
<text x="838" y="94" fill="#f23645" textLength="191" lengthAdjust="spacingAndGlyphs">−276.3 (−0.69%)</text>
<text x="36.5" y="127.7" fill="#131722" textLength="102.5" lengthAdjust="spacingAndGlyphs">Vol · BTC</text>
<text x="153" y="127.7" fill="#f23645" textLength="78.5" lengthAdjust="spacingAndGlyphs">5.574K</text>
</g>

<!-- price axis labels -->
<g class="pl">
<text x="2399" y="117" textLength="96" lengthAdjust="spacingAndGlyphs">42000.0</text>
<text x="2399" y="179" textLength="96" lengthAdjust="spacingAndGlyphs">41750.0</text>
<text x="2399" y="243" textLength="96" lengthAdjust="spacingAndGlyphs">41500.0</text>
<text x="2399" y="343" textLength="96" lengthAdjust="spacingAndGlyphs">41100.0</text>
<text x="2399" y="447" textLength="96" lengthAdjust="spacingAndGlyphs">40700.0</text>
<text x="2399" y="550" textLength="96" lengthAdjust="spacingAndGlyphs">40300.0</text>
<text x="2399" y="656" textLength="96" lengthAdjust="spacingAndGlyphs">39900.0</text>
<text x="2399" y="763" textLength="96" lengthAdjust="spacingAndGlyphs">39500.0</text>
<text x="2399" y="869" textLength="96" lengthAdjust="spacingAndGlyphs">39100.0</text>
<text x="2399" y="951" textLength="96" lengthAdjust="spacingAndGlyphs">38800.0</text>
<text x="2399" y="1031" textLength="96" lengthAdjust="spacingAndGlyphs">38500.0</text>
<text x="2399" y="1113.5" textLength="96" lengthAdjust="spacingAndGlyphs">38200.0</text>
<text x="2399" y="1182.5" textLength="96" lengthAdjust="spacingAndGlyphs">37950.0</text>
<text x="2399" y="1248.5" textLength="96" lengthAdjust="spacingAndGlyphs">37710.0</text>
<text x="2399" y="1310" textLength="96" lengthAdjust="spacingAndGlyphs">37490.0</text>
</g>

<!-- tags -->
<path d="M2382 166 H2503 a3 3 0 0 1 3 3 V197 a3 3 0 0 1 -3 3 H2382 Z" fill="#f23645"/>
<text x="2399" y="192" class="pl" fill="#fff" style="fill:#fff" textLength="96" lengthAdjust="spacingAndGlyphs">41700.1</text>
<path d="M2382 552 H2503 a3 3 0 0 1 3 3 V582 a3 3 0 0 1 -3 3 H2382 Z" fill="#f23645"/>
<text x="2399" y="577" class="pl" style="fill:#fff" textLength="96" lengthAdjust="spacingAndGlyphs">40200.0</text>
<path d="M2382 681 H2503 a3 3 0 0 1 3 3 V739 a3 3 0 0 1 -3 3 H2382 Z" fill="#f23645"/>
<text x="2399" y="707" class="pl" style="fill:#fff" textLength="96" lengthAdjust="spacingAndGlyphs">39706.6</text>
<text x="2400" y="734.6" class="pl" style="fill:#fff" textLength="65" lengthAdjust="spacingAndGlyphs">10:13</text>
<path d="M2382 1317 H2489 a3 3 0 0 1 3 3 V1347 a3 3 0 0 1 -3 3 H2382 Z" fill="#ef5350"/>
<text x="2399" y="1342.5" class="pl" style="fill:#fff" textLength="82" lengthAdjust="spacingAndGlyphs">5.574K</text>

<!-- High / Low -->
<path d="M2311 280 H2380 V313 H2311 a3 3 0 0 1 -3 -3 V283 a3 3 0 0 1 3 -3 Z" fill="#e1eefc"/>
<path d="M2382 280 H2503 a3 3 0 0 1 3 3 V310 a3 3 0 0 1 -3 3 H2382 Z" fill="#e1eefc"/>
<text x="2319" y="305" class="pl" textLength="51" lengthAdjust="spacingAndGlyphs">High</text>
<text x="2399" y="305" class="pl" textLength="96" lengthAdjust="spacingAndGlyphs">41253.7</text>
<path d="M2319 993.5 H2380 V1026.5 H2319 a3 3 0 0 1 -3 -3 V996.5 a3 3 0 0 1 3 -3 Z" fill="#e1eefc"/>
<path d="M2382 993.5 H2503 a3 3 0 0 1 3 3 V1023.5 a3 3 0 0 1 -3 3 H2382 Z" fill="#e1eefc"/>
<text x="2327" y="1019" class="pl" textLength="43" lengthAdjust="spacingAndGlyphs">Low</text>
<text x="2399" y="1019" class="pl" textLength="96" lengthAdjust="spacingAndGlyphs">38545.0</text>

<!-- time axis -->
<g class="tl" text-anchor="middle">
<text x="195" y="1398" textLength="65" lengthAdjust="spacingAndGlyphs">12:00</text>
<text x="382" y="1398" font-weight="bold" textLength="29" lengthAdjust="spacingAndGlyphs">23</text>
<text x="568.3" y="1398" textLength="65" lengthAdjust="spacingAndGlyphs">12:00</text>
<text x="754" y="1398" font-weight="bold" textLength="29" lengthAdjust="spacingAndGlyphs">24</text>
<text x="940" y="1398" textLength="65" lengthAdjust="spacingAndGlyphs">12:00</text>
<text x="1126.3" y="1398" font-weight="bold" textLength="29" lengthAdjust="spacingAndGlyphs">25</text>
<text x="1313.3" y="1398" textLength="65" lengthAdjust="spacingAndGlyphs">12:00</text>
<text x="1499.7" y="1398" font-weight="bold" textLength="29" lengthAdjust="spacingAndGlyphs">26</text>
<text x="1686" y="1398" textLength="65" lengthAdjust="spacingAndGlyphs">12:00</text>
<text x="1872.4" y="1398" font-weight="bold" textLength="29" lengthAdjust="spacingAndGlyphs">27</text>
<text x="2058.8" y="1398" textLength="65" lengthAdjust="spacingAndGlyphs">12:00</text>
<text x="2245" y="1398" font-weight="bold" textLength="29" lengthAdjust="spacingAndGlyphs">28</text>
</g>

<!-- logo -->
<path d="M19.5 1440 H38 V1458 H28.5 V1447 H19.5 Z" fill="#131722"/>
<circle cx="44" cy="1443.5" r="3.6" fill="#131722"/>
<polygon points="49,1440 59,1440 49,1458 40,1458" fill="#131722"/>
<text x="66" y="1461" font-size="26" fill="#131722" textLength="148" lengthAdjust="spacingAndGlyphs">TradingView</text>
</svg>
</body></html>
